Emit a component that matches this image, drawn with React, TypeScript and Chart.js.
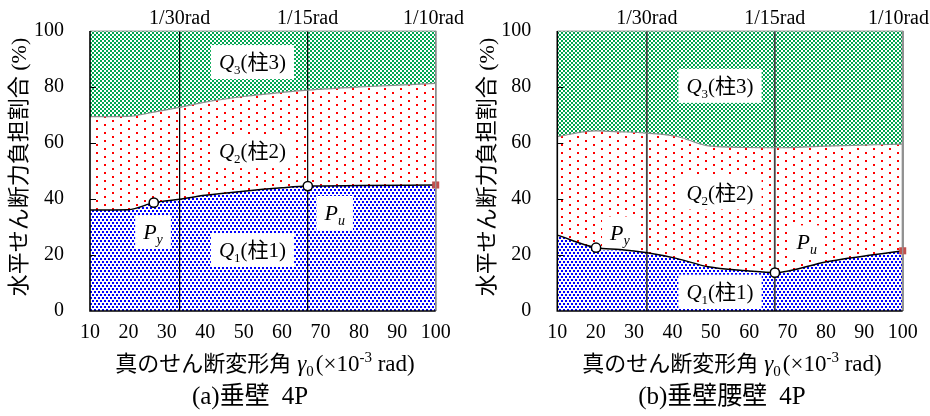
import React, { useEffect, useRef } from "react";
import { Chart, registerables } from "chart.js";

Chart.register(...registerables);

// ---------- data ----------
// Panel (a) 垂壁 4P
const gammaA = [10, 20, 26.6, 33.3, 40, 50, 60, 66.7, 80, 100];
const q1TopA = [36.1, 36.2, 38.7, 39.9, 41.3, 42.8, 44.0, 44.6, 44.8, 45.0];
const q2TopA = [69.4, 69.5, 71.0, 72.7, 74.6, 76.6, 78.1, 78.9, 80.0, 81.3];
const pyA = [26.6, 38.7];
const puA = [66.7, 44.6];

// Panel (b) 垂壁腰壁 4P
const gammaB = [10, 20.1, 26.3, 33.4, 41, 49.3, 59.3, 66.7, 80.2, 100];
const q1TopB = [27.1, 22.6, 22.0, 20.8, 18.8, 15.8, 14.4, 13.7, 17.6, 21.5];
const q2TopB = [62.3, 64.3, 64.0, 63.5, 62.4, 59.0, 58.4, 58.3, 58.9, 59.6];
const pyB = [20.1, 22.6];
const puB = [66.7, 13.7];

// reference drift lines
const radValues = [1000 / 30, 1000 / 15, 100];
const radLabels = ["1/30rad", "1/15rad", "1/10rad"];

const xMin = 10, xMax = 100, xStep = 10;
const yMin = 0, yMax = 100, yStep = 20;

const SERIF = "'Liberation Serif', 'Times New Roman', serif";
const STACK = "'Liberation Serif', 'Noto Sans CJK JP', serif";

type Part = { t: string; font: string; dy?: number; gap?: number };

function richWidth(ctx: CanvasRenderingContext2D, parts: Part[]) {
  let w = 0;
  parts.forEach((p) => { ctx.font = p.font; w += ctx.measureText(p.t).width + (p.gap || 0); });
  return w;
}
function drawRich(ctx: CanvasRenderingContext2D, parts: Part[], cx: number, baseY: number) {
  const w = richWidth(ctx, parts);
  let x = cx - w / 2;
  ctx.textAlign = "left";
  ctx.textBaseline = "alphabetic";
  parts.forEach((p) => {
    ctx.font = p.font;
    ctx.fillText(p.t, x, baseY + (p.dy || 0));
    x += ctx.measureText(p.t).width + (p.gap || 0);
  });
  return w;
}

const qLabel = (n: number): Part[] => [
  { t: "Q", font: `italic 21px ${SERIF}` },
  { t: String(n), font: `13px ${SERIF}`, dy: 5 },
  { t: `(柱${n})`, font: `21px ${STACK}` },
];
const pLabel = (s: string): Part[] => [
  { t: "P", font: `italic 22px ${SERIF}` },
  { t: s, font: `italic 14px ${SERIF}`, dy: 5 },
];

type Panel = {
  left: number; width: number; yAxisWidth: number; padRight: number;
  gamma: number[]; q1: number[]; q2: number[]; py: number[]; pu: number[];
  labels: { parts: Part[]; x: number; y: number }[];
  vColor: string; vWidth: number;
  yTitleX: number; xTitleX: number; captionX: number; caption: string[];
};

const panels: Panel[] = [
  {
    left: 0, width: 465, yAxisWidth: 90, padRight: 29.3,
    gamma: gammaA, q1: q1TopA, q2: q2TopA, py: pyA, pu: puA,
    labels: [
      { parts: qLabel(3), x: 52.3, y: 88.9 },
      { parts: qLabel(2), x: 52.3, y: 57.1 },
      { parts: qLabel(1), x: 52.3, y: 21.8 },
      { parts: pLabel("y"), x: 26.4, y: 28.2 },
      { parts: pLabel("u"), x: 73.7, y: 35.0 },
    ],
    vColor: "#000", vWidth: 1.2,
    yTitleX: 20, xTitleX: 265, captionX: 250, caption: ["(a)垂壁", "4P"],
  },
  {
    left: 465, width: 465, yAxisWidth: 92.3, padRight: 27.3,
    gamma: gammaB, q1: q1TopB, q2: q2TopB, py: pyB, pu: puB,
    labels: [
      { parts: qLabel(3), x: 52.4, y: 80.4 },
      { parts: qLabel(2), x: 52.4, y: 42.3 },
      { parts: qLabel(1), x: 52.4, y: 6.9 },
      { parts: pLabel("y"), x: 26.3, y: 27.7 },
      { parts: pLabel("u"), x: 75.0, y: 24.5 },
    ],
    vColor: "#444", vWidth: 1.8,
    yTitleX: 23, xTitleX: 267, captionX: 257, caption: ["(b)垂壁腰壁", "4P"],
  },
];

function makePattern(ctx: CanvasRenderingContext2D, w: number, h: number, fg: string, dots: number[][]) {
  const c = document.createElement("canvas");
  c.width = w; c.height = h;
  const g = c.getContext("2d")!;
  g.fillStyle = "#fff"; g.fillRect(0, 0, w, h);
  g.fillStyle = fg;
  dots.forEach(([x, y, s]) => g.fillRect(x, y, s, s));
  return ctx.createPattern(c, "repeat")!;
}

function overlay(p: Panel) {
  return {
    id: "overlay",
    beforeDatasetsDraw(chart: any) {
      const { ctx, chartArea: a, scales } = chart;
      const x = scales.x, y = scales.y;
      ctx.save();
      ctx.strokeStyle = p.vColor; ctx.lineWidth = p.vWidth;
      radValues.forEach((v) => {
        const px = x.getPixelForValue(v);
        ctx.beginPath(); ctx.moveTo(px, a.top); ctx.lineTo(px, a.bottom); ctx.stroke();
      });
      p.labels.forEach((l) => {
        const cx = x.getPixelForValue(l.x), cy = y.getPixelForValue(l.y);
        const w = richWidth(ctx, l.parts) + 16;
        const h = 34;
        ctx.fillStyle = "#fff";
        ctx.fillRect(cx - w / 2, cy - h / 2, w, h);
        ctx.fillStyle = "#000";
        drawRich(ctx, l.parts, cx, cy + 7);
      });
      ctx.restore();
    },
    afterDraw(chart: any) {
      const { ctx, chartArea: a, scales } = chart;
      const x = scales.x, y = scales.y;
      ctx.save();
      ctx.strokeStyle = "#9a9a9a"; ctx.lineWidth = 1.2;
      ctx.beginPath(); ctx.moveTo(a.left, a.top); ctx.lineTo(a.right, a.top); ctx.lineTo(a.right, a.bottom); ctx.stroke();
      ctx.strokeStyle = "#000"; ctx.lineWidth = 1.6;
      ctx.beginPath(); ctx.moveTo(a.left, a.top); ctx.lineTo(a.left, a.bottom); ctx.lineTo(a.right, a.bottom); ctx.stroke();
      ctx.lineWidth = 1;
      for (let v = yMin + yStep; v < yMax; v += yStep) {
        const py = Math.round(y.getPixelForValue(v)) + 0.5;
        ctx.beginPath(); ctx.moveTo(a.left, py); ctx.lineTo(a.left + 6, py); ctx.stroke();
      }
      ctx.fillStyle = "#000";
      ctx.font = `20px ${SERIF}`;
      ctx.textBaseline = "middle";
      radValues.forEach((v, i) => {
        const tw = ctx.measureText(radLabels[i]).width;
        let cx = x.getPixelForValue(v);
        if (cx + tw / 2 > p.width - 1) cx = p.width - 1 - tw / 2;
        ctx.textAlign = "center";
        ctx.fillText(radLabels[i], cx, 19);
      });
      ctx.save();
      ctx.translate(p.yTitleX, 167);
      ctx.rotate(-Math.PI / 2);
      ctx.font = `22px ${STACK}`;
      ctx.textAlign = "center"; ctx.textBaseline = "middle";
      ctx.fillText("水平せん断力負担割合 (%)", 0, 0);
      ctx.restore();
      drawRich(ctx, [
        { t: "真のせん断変形角", font: `22px ${STACK}`, gap: 6 },
        { t: "γ", font: `italic 23px ${SERIF}` },
        { t: "0", font: `15px ${SERIF}`, dy: 5, gap: 2 },
        { t: "(×10", font: `23px ${SERIF}` },
        { t: "-3", font: `15px ${SERIF}`, dy: -9 },
        { t: " rad)", font: `23px ${SERIF}` },
      ], p.xTitleX, 371);
      drawRich(ctx, [
        { t: p.caption[0], font: `25px ${STACK}`, gap: 12 },
        { t: p.caption[1], font: `25px ${STACK}` },
      ], p.captionX, 404);
      ctx.restore();
    },
  };
}

function PanelChart({ p }: { p: Panel }) {
  const ref = useRef<HTMLCanvasElement>(null);
  useEffect(() => {
    const canvas = ref.current!;
    const ctx = canvas.getContext("2d")!;
    const blue = makePattern(ctx, 4, 6, "#0000ff", [[0, 0, 2], [2, 3, 2]]);
    const red = makePattern(ctx, 16, 8, "#ff0000", [[0, 0, 2], [8, 4, 2]]);
    const green = makePattern(ctx, 4, 4, "#00a651", [[0, 0, 2], [2, 2, 2]]);
    const pts = (ys: number[]) => p.gamma.map((g, i) => ({ x: g, y: ys[i] }));
    const tickFont = { family: SERIF, size: 20 };
    const chart = new Chart(canvas, {
      type: "line",
      data: {
        datasets: [
          {
            data: [{ x: p.py[0], y: p.py[1] }, { x: p.pu[0], y: p.pu[1] }],
            showLine: false, pointRadius: 4.6, pointBackgroundColor: "#fff",
            pointBorderColor: "#000", pointBorderWidth: 1.5, fill: false, clip: false,
          } as any,
          {
            data: [{ x: p.gamma[p.gamma.length - 1], y: p.q1[p.q1.length - 1] }],
            showLine: false, pointStyle: "rect", pointRadius: 5, pointBackgroundColor: "#c0504d",
            pointBorderColor: "#c0504d", pointBorderWidth: 0, fill: false, clip: false,
          },
          {
            data: pts(p.q1), borderColor: "#000", borderWidth: 1.5, pointRadius: 0,
            fill: "origin", backgroundColor: blue, cubicInterpolationMode: "monotone",
          },
          {
            data: pts(p.q2), borderColor: "#8c8c8c", borderWidth: 1.2, pointRadius: 0,
            fill: "-1", backgroundColor: red, cubicInterpolationMode: "monotone",
          },
          {
            data: [{ x: xMin, y: yMax }, { x: xMax, y: yMax }], borderColor: "rgba(0,0,0,0)",
            borderWidth: 0, pointRadius: 0, fill: "-1", backgroundColor: green,
          },
        ],
      },
      options: {
        responsive: false,
        animation: false,
        events: [],
        layout: { autoPadding: false, padding: { left: 0, right: p.padRight, top: 31, bottom: 0 } },
        plugins: {
          legend: { display: false },
          title: { display: false },
          subtitle: { display: false },
          tooltip: { enabled: false },
          filler: { drawTime: "beforeDatasetsDraw" } as any,
        },
        scales: {
          x: {
            type: "linear", min: xMin, max: xMax,
            ticks: { stepSize: xStep, padding: 10, font: tickFont, color: "#000", maxRotation: 0, autoSkip: false },
            grid: { display: false, drawTicks: false },
            border: { display: false },
            afterFit: (s: any) => { s.height = 105; s.paddingLeft = 0; s.paddingRight = 0; s.paddingTop = 0; s.paddingBottom = 0; },
          },
          y: {
            type: "linear", min: yMin, max: yMax,
            ticks: { stepSize: yStep, padding: 26, font: tickFont, color: "#000" },
            grid: { display: false, drawTicks: false },
            border: { display: false },
            afterFit: (s: any) => { s.width = p.yAxisWidth; s.paddingTop = 0; s.paddingBottom = 0; s.paddingLeft = 0; s.paddingRight = 0; },
          },
        },
      } as any,
      plugins: [overlay(p)],
    });
    return () => chart.destroy();
  }, [p]);
  return (
    <canvas
      ref={ref}
      width={p.width}
      height={416}
      style={{ position: "absolute", left: p.left, top: 0, width: p.width, height: 416 }}
    />
  );
}

export default function App() {
  return (
    <div style={{ position: "absolute", left: 0, top: 0, width: 930, height: 416, background: "#fff", overflow: "hidden" }}>
      {panels.map((p, i) => (
        <PanelChart key={i} p={p} />
      ))}
    </div>
  );
}
